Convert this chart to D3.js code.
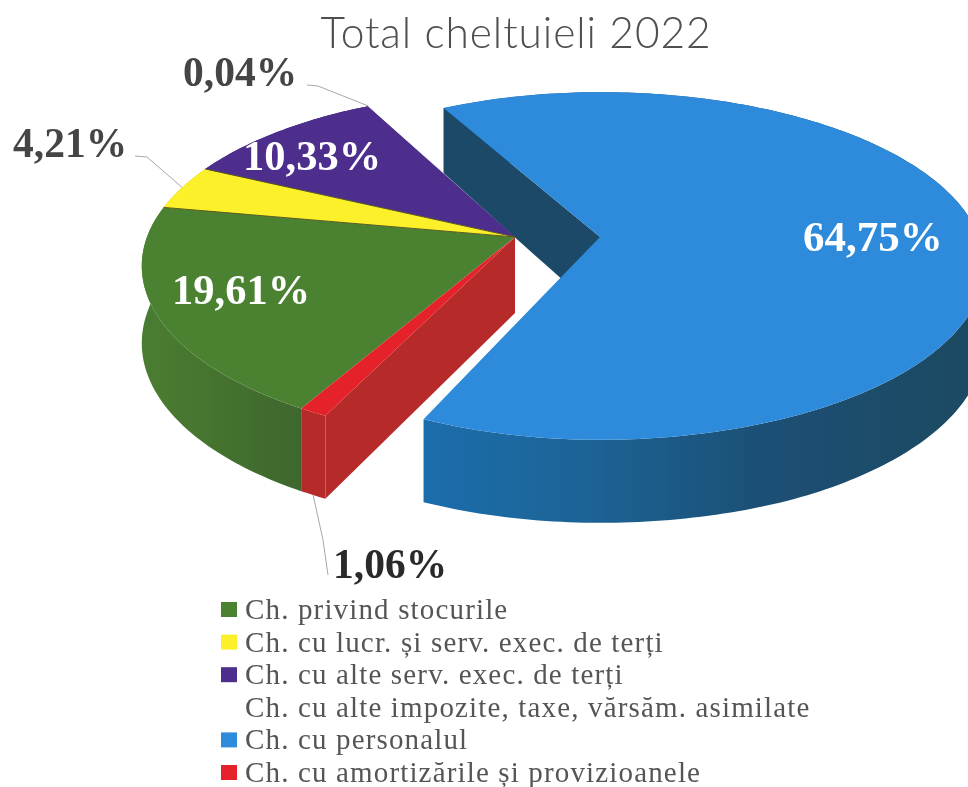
<!DOCTYPE html>
<html>
<head>
<meta charset="utf-8">
<script src="https://cdn.jsdelivr.net/npm/d3@7/dist/d3.min.js"></script>
<style>
  html, body { margin: 0; padding: 0; background: #fff; }
  svg { display: block; }
</style>
</head>
<body>
<div id="chart"></div>
<script>
const categories = [
  "Ch. privind stocurile",
  "Ch. cu lucr. și serv. exec. de terți",
  "Ch. cu alte serv. exec. de terți",
  "Ch. cu alte impozite, taxe, vărsăm. asimilate",
  "Ch. cu personalul",
  "Ch. cu amortizările și provizioanele"
];
const values = [19.61, 4.21, 10.33, 0.04, 64.75, 1.06];
const valueLabels = ["19,61%", "4,21%", "10,33%", "0,04%", "64,75%", "1,06%"];

const topColors = ["#4c8231", "#fbf02a", "#4e2e8d", "#ffffff", "#2d8bdb", "#e5202b"];
const sideColors = ["url(#greenRim)", "#c9bf20", "#3a2270", "#ffffff", "url(#blueRim)", "#b62a2c"];
const swatchColors = ["#4c8231", "#fbf02a", "#4e2e8d", "none", "#2d8bdb", "#e5202b"];

const width = 968, height = 787;
const deg = Math.PI / 180;

// pie plane seen in perspective
const Rx = 368, Ry = 169, persp = 0.1667;
const center = { x: 515, y: 237 };
const blueShift = 85;      // exploded slice
const blueTurn = -2 * deg; // the scan has it turned a little
const blueStretch = 1.03;  // right side of the blue slice runs wider in the scan

const depth = d3.scaleLinear().domain([106, 237, 416]).range([66, 76, 83]).clamp(true);

function project(angle, ox) {
  const u = Math.sin(angle), v = -Math.cos(angle);
  const k = 1 / (1 - persp * v);
  const rx = (ox !== center.x && u > 0) ? Rx * blueStretch : Rx;
  return [ox + rx * u * k, center.y + Ry * v * k];
}
const down = p => [p[0], p[1] + depth(p[1])];

const pie = d3.pie().sort(null).value(d => d)
  .startAngle(209.8 * deg).endAngle(209.8 * deg + 2 * Math.PI);
const arcs = pie(values);

const line = d3.line();
function arcPoints(a0, a1, ox) {
  const n = Math.max(2, Math.ceil((a1 - a0) / deg));
  return d3.range(n + 1).map(i => project(a0 + (a1 - a0) * i / n, ox));
}

const svg = d3.select("#chart").append("svg").attr("width", width).attr("height", height);
const defs = svg.append("defs");
defs.append("filter").attr("id", "scan").append("feGaussianBlur").attr("stdDeviation", 0.5);

function rimGradient(id, x1, x2, stops) {
  const grad = defs.append("linearGradient").attr("id", id)
    .attr("gradientUnits", "userSpaceOnUse").attr("x1", x1).attr("x2", x2).attr("y1", 0).attr("y2", 0);
  stops.forEach(s => grad.append("stop").attr("offset", s[0]).attr("stop-color", s[1]));
}
rimGradient("blueRim", 427, 968, [[0, "#1f6dab"], [0.3, "#1d6396"], [0.6, "#1d5076"], [1, "#1e4a62"]]);
rimGradient("greenRim", 142, 303, [[0, "#4a7d30"], [0.5, "#44722f"], [1, "#3e662e"]]);

const pieLayer = svg.append("g").attr("filter", "url(#scan)");

const slices = arcs.map((a, i) => {
  const isBlue = i === 4;
  const turn = isBlue ? blueTurn : 0;
  const ox = center.x + (isBlue ? blueShift : 0);
  return { i, a0: a.startAngle + turn, a1: a.endAngle + turn, ox };
});

// outer rims, then walls, then top faces
slices.forEach(s => {
  const top = arcPoints(s.a0, s.a1, s.ox);
  pieLayer.append("path")
    .attr("d", line(top.concat(top.map(down).reverse())) + "Z")
    .attr("fill", sideColors[s.i]);
});

// wall of the blue slice (back edge) and of the red one (front edge)
const apexBlue = [slices[4].ox, center.y];
const blueBack = project(slices[4].a0, slices[4].ox);
pieLayer.append("path")
  .attr("d", line([apexBlue, blueBack, down(blueBack), down(apexBlue)]) + "Z")
  .attr("fill", "#1b4a68");

const apexMain = [center.x, center.y];
const redFront = project(slices[5].a0, center.x);
pieLayer.append("path")
  .attr("d", line([apexMain, redFront, down(redFront), down(apexMain)]) + "Z")
  .attr("fill", sideColors[5]);

slices.forEach(s => {
  pieLayer.append("path")
    .attr("d", line([[s.ox, center.y]].concat(arcPoints(s.a0, s.a1, s.ox))) + "Z")
    .attr("fill", topColors[s.i]);
});

// thin dark edges around yellow, as printed
const edge = a => line([apexMain, project(a, center.x)]);
[slices[1].a0, slices[1].a1].forEach(a => {
  pieLayer.append("path").attr("d", edge(a)).attr("stroke", "#5a5a20").attr("stroke-width", 1).attr("fill", "none");
});

// leader lines
const leaders = [
  { i: 3, via: [[318, 86], [307, 85]] },
  { i: 1, via: [[147, 157], [135, 156]] },
  { i: 5, via: [[323, 540], [328, 575]] }
];
leaders.forEach(l => {
  const s = slices[l.i];
  const m = (s.a0 + s.a1) / 2;
  let p = project(m, center.x);
  if (l.i === 5) p = down(p);
  svg.append("path")
    .attr("d", line([p].concat(l.via)))
    .attr("fill", "none").attr("stroke", "#a8a8a8").attr("stroke-width", 1);
});

const textLayer = svg.append("g").attr("filter", "url(#scan)");

// title
textLayer.append("text")
  .attr("x", 516).attr("y", 48).attr("text-anchor", "middle")
  .attr("font-family", "Lato").attr("font-weight", 300).attr("font-size", 42.5)
  .attr("letter-spacing", 0.9)
  .attr("fill", "#4f4f4f")
  .text("Total cheltuieli 2022");

// value labels
const labelPos = [
  { x: 172, y: 304, size: 42.5, fill: "#ffffff" },
  { x: 13, y: 157, size: 41.5, fill: "#444444" },
  { x: 243, y: 170, size: 42.5, fill: "#ffffff" },
  { x: 183, y: 86, size: 41.5, fill: "#444444" },
  { x: 803, y: 251, size: 43, fill: "#ffffff" },
  { x: 333, y: 578, size: 41.5, fill: "#2a2a2a" }
];
textLayer.append("g").selectAll("text").data(valueLabels).join("text")
  .attr("x", (d, i) => labelPos[i].x)
  .attr("y", (d, i) => labelPos[i].y)
  .attr("font-family", "Liberation Serif").attr("font-weight", 700)
  .attr("font-size", (d, i) => labelPos[i].size)
  .attr("fill", (d, i) => labelPos[i].fill)
  .text(d => d);

// legend
const legendY = d3.scalePoint().domain(d3.range(categories.length)).range([619, 782]);
const legend = textLayer.append("g").selectAll("g").data(categories).join("g")
  .attr("transform", (d, i) => `translate(0,${legendY(i)})`);
legend.append("rect")
  .attr("x", 221).attr("y", -17).attr("width", 16).attr("height", 15)
  .attr("fill", (d, i) => swatchColors[i]);
legend.append("text")
  .attr("x", 245).attr("y", 0)
  .attr("font-family", "Liberation Serif").attr("font-size", 29)
  .attr("letter-spacing", 1.15)
  .attr("fill", "#555555")
  .text(d => d);
</script>
</body>
</html>
